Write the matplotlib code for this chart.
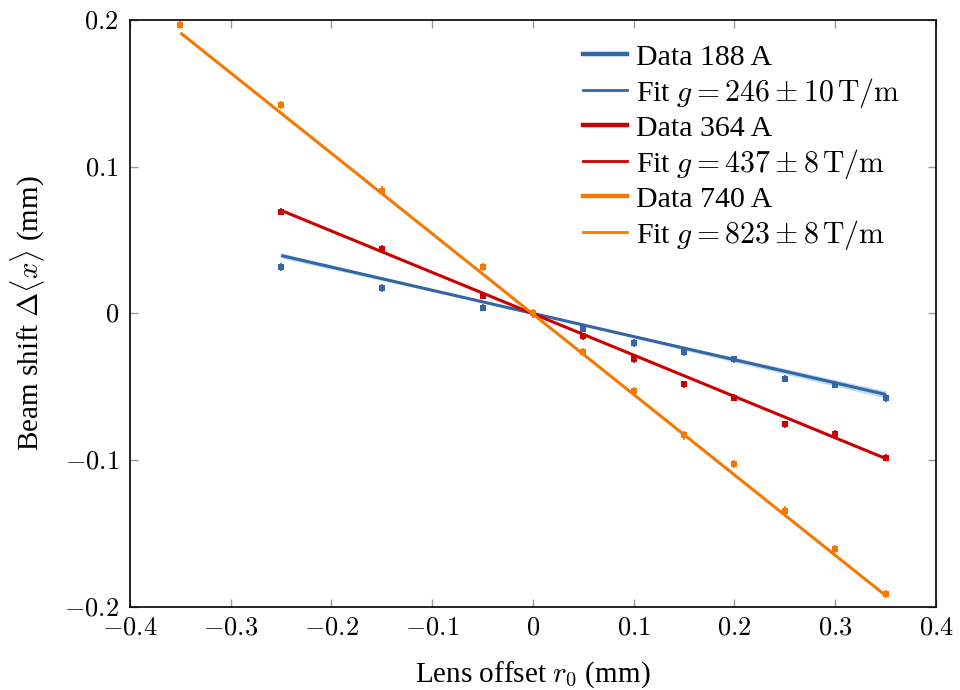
import matplotlib
matplotlib.use("Agg")
import matplotlib.pyplot as plt
from matplotlib.lines import Line2D
from matplotlib.ticker import FuncFormatter

plt.rcParams['font.family'] = ['Liberation Serif', 'DejaVu Serif']
plt.rcParams['mathtext.fontset'] = 'cm'

# Data
x_188 = [-0.25, -0.15, -0.05, 0.0, 0.05, 0.10, 0.15, 0.20, 0.25, 0.30, 0.35]
y_188 = [0.0316, 0.0173, 0.0039, 0.0, -0.0105, -0.0203, -0.0266, -0.0314, -0.0446, -0.0487, -0.0578]
e_188 = [0.0025] * len(x_188)

x_364 = [-0.25, -0.15, -0.05, 0.0, 0.05, 0.10, 0.15, 0.20, 0.25, 0.30, 0.35]
y_364 = [0.0695, 0.0440, 0.0121, 0.0, -0.0157, -0.0314, -0.0485, -0.0575, -0.0758, -0.0822, -0.0985]
e_364 = [0.0025] * len(x_364)

x_740 = [-0.35, -0.25, -0.15, -0.05, 0.0, 0.05, 0.10, 0.15, 0.20, 0.25, 0.30, 0.35]
y_740 = [0.1968, 0.1422, 0.0838, 0.0314, 0.0, -0.0266, -0.0532, -0.0833, -0.1025, -0.1345, -0.1610, -0.1915]
e_740 = [0.0028] * len(x_740)

# Fit lines (endpoints)
fit_x_188 = [-0.25, 0.35]
fit_y_188 = [0.0395, -0.0553]
band_x_188 = [-0.25, 0.0, 0.35]
band_lo_188 = [0.0378, -0.0005, -0.0578]
band_hi_188 = [0.0412, 0.0005, -0.0528]

fit_x_364 = [-0.25, 0.35]
fit_y_364 = [0.0703, -0.0990]

fit_x_740 = [-0.35, 0.35]
fit_y_740 = [0.1915, -0.1925]

labels_data = ["Data 188 A", "Data 364 A", "Data 740 A"]
labels_fit = [r"Fit $g = 246 \pm 10\,\mathrm{T/m}$",
              r"Fit $g = 437 \pm 8\,\mathrm{T/m}$",
              r"Fit $g = 823 \pm 8\,\mathrm{T/m}$"]

xticks = [-0.4, -0.3, -0.2, -0.1, 0.0, 0.1, 0.2, 0.3, 0.4]
yticks = [-0.2, -0.1, 0.0, 0.1, 0.2]

c_blue = '#3465a4'
c_red = '#cc0000'
c_orange = '#f57900'

fig = plt.figure(figsize=(9.6, 6.9), dpi=100)
ax = fig.add_axes([0.1354, 0.1210, 0.8396, 0.8496])

ax.fill_between(band_x_188, band_lo_188, band_hi_188, color='#a8d4f0', alpha=0.8, lw=0, zorder=1)

series = [
    (x_188, y_188, e_188, fit_x_188, fit_y_188, c_blue),
    (x_364, y_364, e_364, fit_x_364, fit_y_364, c_red),
    (x_740, y_740, e_740, fit_x_740, fit_y_740, c_orange),
]
for xs, ys, es, fx, fy, c in series:
    ax.errorbar(xs, ys, yerr=es, fmt='s', color=c, ms=4.8, mew=0, capsize=2.5,
                elinewidth=1.2, capthick=1.3, zorder=3)
    ax.plot(fx, fy, color=c, lw=2.2, zorder=2, solid_capstyle='butt')

ax.set_xlim(-0.4, 0.4)
ax.set_ylim(-0.2, 0.2)
ax.set_xticks(xticks)
ax.set_yticks(yticks)

def fmt(v, pos):
    if abs(v) < 1e-9:
        return r"$0$"
    return r"$%s$" % ("%.1f" % v)

ax.xaxis.set_major_formatter(FuncFormatter(fmt))
ax.yaxis.set_major_formatter(FuncFormatter(fmt))
ax.tick_params(direction='in', length=6, width=1, color='#999999', top=True, right=True,
               labelsize=19, pad=8)
for s in ax.spines.values():
    s.set_linewidth(1.2)
    s.set_color('black')

ax.set_xlabel(r"Lens offset $r_0$ (mm)", fontsize=21, labelpad=14)
ax.set_ylabel(r"Beam shift $\Delta\langle x\rangle$ (mm)", fontsize=21, labelpad=12)

handles = []
labels = []
for c, ld, lf in zip([c_blue, c_red, c_orange], labels_data, labels_fit):
    handles.append(Line2D([], [], color=c, lw=3.2))
    labels.append(ld)
    handles.append(Line2D([], [], color=c, lw=2.0))
    labels.append(lf)
leg = ax.legend(handles, labels, loc='upper left', bbox_to_anchor=(0.562, 0.960),
                frameon=False, fontsize=21.5, handlelength=1.47, handletextpad=0.3,
                labelspacing=0.17, borderaxespad=0.0, borderpad=0.0)

fig.savefig("out.png", dpi=100)
